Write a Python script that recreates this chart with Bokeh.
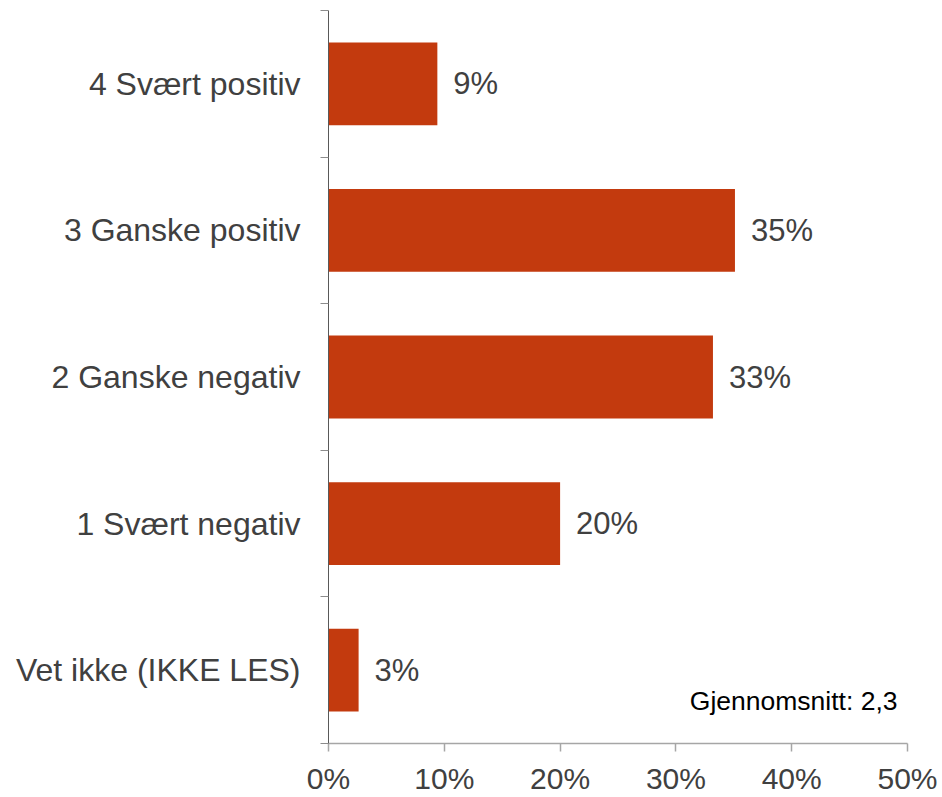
from bokeh.plotting import figure
from bokeh.models import ColumnDataSource, LabelSet, Label, FixedTicker, Range1d
from bokeh.core.properties import value
from bokeh.embed import file_html
from bokeh.resources import INLINE

categories = ["4 Svært positiv", "3 Ganske positiv", "2 Ganske negativ",
              "1 Svært negativ", "Vet ikke (IKKE LES)"]
values = [9.4, 35.1, 33.2, 20.0, 2.6]
value_labels = ["9%", "35%", "33%", "20%", "3%"]
x_ticks = [0, 10, 20, 30, 40, 50]
x_tick_labels = ["0%", "10%", "20%", "30%", "40%", "50%"]
mean_text = "Gjennomsnitt: 2,3"

FONT = "Liberation Sans"
TXT = "#404040"
BAR = "#C33A0E"

n = len(categories)
ypos = [n - i - 0.5 for i in range(n)]
bounds = [float(i) for i in range(n + 1)]

src = ColumnDataSource(dict(y=ypos, v=values, lab=value_labels, cat=categories))

p = figure(width=942, height=797, output_backend="svg", toolbar_location=None,
           x_range=Range1d(0, 50), y_range=Range1d(0, n),
           min_border_left=328, min_border_right=35, min_border_top=10,
           min_border_bottom=52)
p.outline_line_color = None
p.xgrid.visible = False
p.ygrid.visible = False
p.background_fill_color = "white"
p.border_fill_color = "white"

p.hbar(y="y", right="v", left=0, height=0.565, source=src,
       fill_color=BAR, line_color=None)

labels = LabelSet(x="v", y="y", text="lab", source=src, x_offset=16,
                  text_baseline="middle", text_align="left",
                  text_font=value(FONT), text_font_size=value("31px"),
                  text_color=value(TXT))
p.add_layout(labels)

p.add_layout(Label(x=50, y=0.29, text=mean_text, x_offset=-10,
                   text_align="right", text_baseline="alphabetic",
                   text_font=FONT, text_font_size="26.5px", text_color="black"))

# y axis
ya = p.yaxis[0]
ya.ticker = FixedTicker(ticks=ypos, minor_ticks=bounds)
ya.major_label_overrides = {y: c for y, c in zip(ypos, categories)}
ya.major_tick_out = 0
ya.major_tick_in = 0
ya.minor_tick_out = 8
ya.minor_tick_in = 0
ya.minor_tick_line_color = "#8c8c8c"
ya.axis_line_color = "#595959"
ya.axis_line_width = 1
ya.major_label_standoff = 20
ya.major_label_text_font = FONT
ya.major_label_text_font_size = "32px"
ya.major_label_text_color = TXT

# x axis
xa = p.xaxis[0]
xa.ticker = FixedTicker(ticks=x_ticks, minor_ticks=[])
xa.major_label_overrides = {t: l for t, l in zip(x_ticks, x_tick_labels)}
xa.major_tick_out = 8
xa.major_tick_in = 0
xa.major_tick_line_color = "#a6a6a6"
xa.major_tick_line_width = 1.5
xa.axis_line_color = "#a6a6a6"
xa.axis_line_width = 1.5
xa.major_label_standoff = 10
xa.major_label_text_font = FONT
xa.major_label_text_font_size = "30px"
xa.major_label_text_color = TXT

open("out.html", "w").write(file_html(p, INLINE))
